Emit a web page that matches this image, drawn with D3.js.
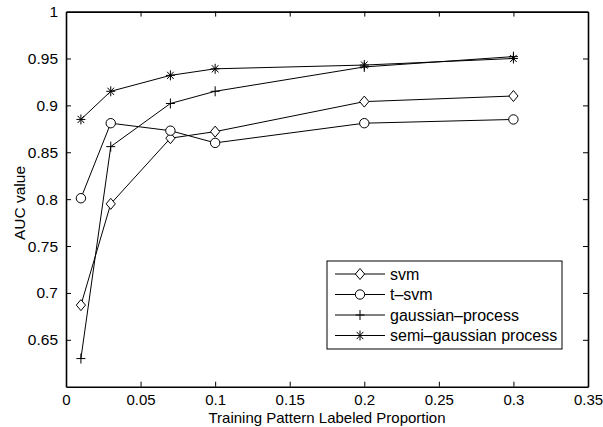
<!DOCTYPE html>
<html>
<head>
<meta charset="utf-8">
<script src="https://cdn.jsdelivr.net/npm/d3@7"></script>
<style>
  html, body { margin: 0; padding: 0; background: #fff; }
  svg { display: block; }
  text { font-family: "Liberation Sans", Arial, Helvetica, sans-serif; fill: #000; }
</style>
</head>
<body>
<svg id="chart" width="603" height="427"></svg>
<script>
// Training proportions (x) and AUC per method
const proportions = [0.01, 0.03, 0.07, 0.1, 0.2, 0.3];
const svm = [0.687, 0.795, 0.865, 0.872, 0.904, 0.910];
const tsvm = [0.801, 0.881, 0.873, 0.860, 0.881, 0.885];
const gaussianProcess = [0.630, 0.856, 0.902, 0.915, 0.941, 0.952];
const semiGaussianProcess = [0.885, 0.915, 0.932, 0.939, 0.943, 0.950];
const seriesNames = ["svm", "t\u2013svm", "gaussian\u2013process", "semi\u2013gaussian process"];
const seriesMarkers = ["diamond", "circle", "plus", "star"];
const xTicks = [0, 0.05, 0.1, 0.15, 0.2, 0.25, 0.3, 0.35];
const yTicks = [0.65, 0.7, 0.75, 0.8, 0.85, 0.9, 0.95, 1];

const series = [svm, tsvm, gaussianProcess, semiGaussianProcess].map((vals, i) => ({
  name: seriesNames[i],
  marker: seriesMarkers[i],
  points: proportions.map((p, j) => [p, vals[j]])
}));

const svg = d3.select("#chart");
const plotLeft = 66, plotRight = 588, plotTop = 11.6, plotBottom = 386.7;
const x = d3.scaleLinear().domain([0, 0.35]).range([plotLeft, plotRight]);
const y = d3.scaleLinear().domain([0.6, 1]).range([plotBottom, plotTop]);
const fs = 15.5;

const fmt = d => d === 0 ? "0" : String(+d.toFixed(2));

// Marker drawing
function drawMarker(g, type, cx, cy) {
  const s = g.append("g").attr("transform", `translate(${cx},${cy})`)
    .attr("fill", "none").attr("stroke", "#000").attr("stroke-width", 1);
  if (type === "diamond") {
    s.append("path").attr("d", "M0,-5.5L4.6,0L0,5.5L-4.6,0Z").attr("fill", "#fff");
  } else if (type === "circle") {
    s.append("circle").attr("r", 4.7).attr("fill", "#fff");
  } else if (type === "plus") {
    s.append("path").attr("d", "M-4.5,0H4.5M0,-5V5");
  } else if (type === "star") {
    s.append("path").attr("d", "M-4.5,0H4.5M0,-5V5M-3.3,-3.6L3.3,3.6M-3.3,3.6L3.3,-3.6");
  }
}

// Data lines and markers
const line = d3.line().x(d => x(d[0])).y(d => y(d[1]));
series.forEach(s => {
  svg.append("path").datum(s.points).attr("d", line)
    .attr("fill", "none").attr("stroke", "#000").attr("stroke-width", 1);
});
series.forEach(s => {
  const g = svg.append("g");
  s.points.forEach(p => drawMarker(g, s.marker, x(p[0]), y(p[1])));
});

// Axes box with inward ticks on all four sides
const tickLen = 5;
const axB = svg.append("g").attr("transform", `translate(0,${plotBottom})`)
  .call(d3.axisBottom(x).tickValues(xTicks).tickSizeInner(-tickLen).tickSizeOuter(0).tickPadding(8).tickFormat(fmt));
const axT = svg.append("g").attr("transform", `translate(0,${plotTop})`)
  .call(d3.axisTop(x).tickValues(xTicks).tickSizeInner(-tickLen).tickSizeOuter(0).tickFormat(""));
const axL = svg.append("g").attr("transform", `translate(${plotLeft},0)`)
  .call(d3.axisLeft(y).tickValues(yTicks).tickSizeInner(-tickLen).tickSizeOuter(0).tickPadding(8).tickFormat(fmt));
const axR = svg.append("g").attr("transform", `translate(${plotRight},0)`)
  .call(d3.axisRight(y).tickValues(yTicks).tickSizeInner(-tickLen).tickSizeOuter(0).tickFormat(""));
[axB, axT, axL, axR].forEach(a => {
  a.select(".domain").attr("stroke", "#000").attr("stroke-width", 1.6);
  a.selectAll(".tick line").attr("stroke", "#000").attr("stroke-width", 1);
  a.selectAll("text").attr("font-size", fs).attr("font-family", null).attr("fill", "#000");
});
axB.selectAll("text").attr("font-size", 15);
// Ticks at the exact box edges are hidden by the frame
axT.selectAll(".tick").filter(d => d === 0 || d === 0.35).remove();
axB.selectAll(".tick line").filter(d => d === 0 || d === 0.35).remove();
axR.selectAll(".tick").filter(d => d === 1).remove();
axL.selectAll(".tick line").filter(d => d === 1).remove();

// Axis titles
svg.append("text").attr("x", (plotLeft + plotRight) / 2).attr("y", 422.5)
  .attr("text-anchor", "middle").attr("font-size", 15)
  .text("Training Pattern Labeled Proportion");
svg.append("text").attr("transform", `translate(25,203) rotate(-90)`)
  .attr("text-anchor", "middle").attr("font-size", fs)
  .text("AUC value");

// Legend
const lg = svg.append("g");
lg.append("rect").attr("x", 327).attr("y", 261).attr("width", 235).attr("height", 88)
  .attr("fill", "#fff").attr("stroke", "#000").attr("stroke-width", 1);
series.forEach((s, i) => {
  const ry = 274 + i * 20.5;
  lg.append("line").attr("x1", 335).attr("x2", 385).attr("y1", ry).attr("y2", ry)
    .attr("stroke", "#000").attr("stroke-width", 1);
  drawMarker(lg, s.marker, 360, ry);
  lg.append("text").attr("x", 390).attr("y", ry).attr("dy", "0.35em")
    .attr("font-size", 16).text(s.name);
});
</script>
</body>
</html>
